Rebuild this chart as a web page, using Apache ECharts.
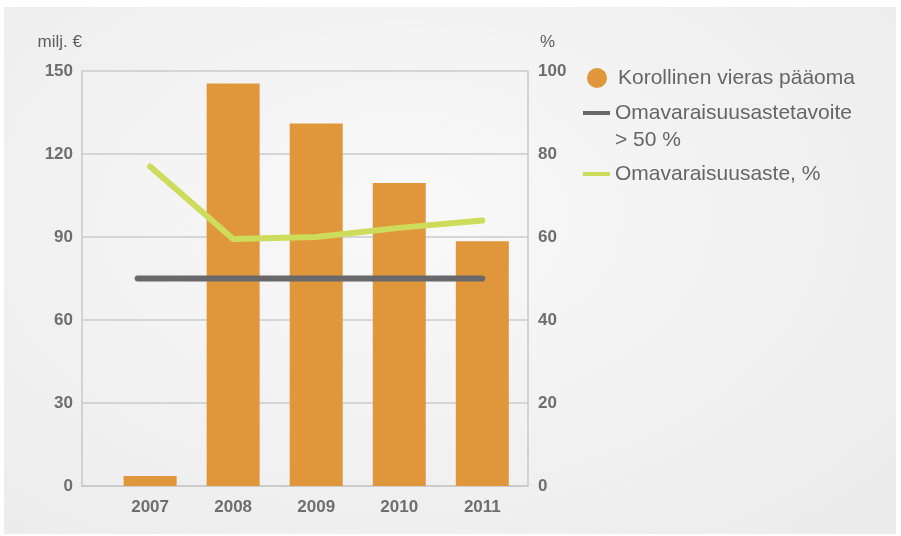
<!DOCTYPE html>
<html>
<head>
<meta charset="utf-8">
<script src="https://cdn.jsdelivr.net/npm/echarts@6/dist/echarts.min.js"></script>
<style>
  html, body { margin: 0; padding: 0; background: #fff; }
  #panel {
    position: absolute; left: 4px; top: 7px; width: 892px; height: 527px;
    background: radial-gradient(ellipse at 45% 40%, #f9f9f9 0%, #f1f1f1 55%, #ebebeb 100%);
  }
  #chart { position: absolute; left: 0; top: 0; width: 901px; height: 536px; }
</style>
</head>
<body>
<div id="panel"></div>
<div id="chart"></div>
<script>
// data
const years = [2007, 2008, 2009, 2010, 2011];
const debt = [3.6, 145.5, 131, 109.5, 88.5];          // milj. €
const equityRatio = [77, 59.5, 60, 62.2, 64];          // %
const goalYears = [2006.85, 2011];
const goalValue = [50, 50];                             // %
const leftTicks = [0, 30, 60, 90, 120, 150];
const rightTicks = [0, 20, 40, 60, 80, 100];

const names = {
  bar: "Korollinen vieras pääoma",
  goal: "Omavaraisuusastetavoite\n> 50 %",
  ratio: "Omavaraisuusaste, %"
};

const tickFont = { color: "#6e6e6e", fontSize: 17, fontWeight: "bold", fontFamily: "Liberation Sans" };
const legendFont = { color: "#666666", fontSize: 21, lineHeight: 27, fontFamily: "Liberation Sans" };
const nameFont = { color: "#5e5e5e", fontSize: 17, fontFamily: "Liberation Sans" };

// circle with some empty room on its right, so the text sits further off
const dotIcon = "path://M0,10a10,10 0 1,0 20,0a10,10 0 1,0 -20,0zM26,10";

const chart = echarts.init(document.getElementById("chart"));
chart.setOption({
  animation: false,
  grid: { left: 82, right: 373, top: 71, bottom: 50 },
  legend: [
    {
      left: 587, top: 64.5, padding: 0, itemWidth: 26, itemHeight: 20,
      data: [{ name: names.bar, icon: dotIcon }],
      textStyle: legendFont
    },
    {
      left: 583, top: 72.5, padding: 0, itemWidth: 27, itemHeight: 4,
      data: [{ name: names.goal, icon: "rect" }],
      // blank first line keeps the first text line level with the icon
      formatter: n => " \n" + n,
      textStyle: legendFont
    },
    {
      left: 583, top: 160.5, padding: 0, itemWidth: 27, itemHeight: 4,
      data: [{ name: names.ratio, icon: "rect" }],
      textStyle: legendFont
    }
  ],
  xAxis: {
    type: "value",
    min: 2006.18,
    max: 2011.55,
    splitLine: { show: false },
    axisLine: { lineStyle: { color: "#c8c8c8", width: 1.5 } },
    axisTick: { show: false },
    axisLabel: Object.assign({ customValues: years, margin: 13, formatter: v => String(v) }, tickFont)
  },
  yAxis: [
    {
      type: "value", min: 0, max: 150, interval: 30,
      name: "milj. €", nameLocation: "end", nameGap: 20,
      nameTextStyle: Object.assign({ align: "right" }, nameFont),
      axisLine: { show: true, lineStyle: { color: "#c8c8c8", width: 1.5 } },
      axisTick: { show: false },
      splitLine: { lineStyle: { color: "#cbcbcb", width: 1.5 } },
      axisLabel: Object.assign({ customValues: leftTicks, margin: 9 }, tickFont)
    },
    {
      type: "value", min: 0, max: 100, interval: 20, position: "right",
      name: "%", nameLocation: "end", nameGap: 20,
      nameTextStyle: Object.assign({ align: "left", padding: [0, 0, 0, 12] }, nameFont),
      axisLine: { show: true, lineStyle: { color: "#c8c8c8", width: 1.5 } },
      axisTick: { show: false },
      splitLine: { show: false },
      axisLabel: Object.assign({ customValues: rightTicks, margin: 10 }, tickFont)
    }
  ],
  series: [
    {
      name: names.bar,
      type: "bar",
      barWidth: 53,
      yAxisIndex: 0,
      itemStyle: { color: "#e0973c" },
      data: years.map((y, i) => [y, debt[i]])
    },
    {
      name: names.goal,
      type: "line",
      yAxisIndex: 1,
      symbol: "none",
      lineStyle: { color: "#69696b", width: 6, cap: "round" },
      itemStyle: { color: "#69696b" },
      data: goalYears.map((y, i) => [y, goalValue[i]])
    },
    {
      name: names.ratio,
      type: "line",
      yAxisIndex: 1,
      symbol: "none",
      lineStyle: { color: "#cddc5b", width: 6, cap: "round", join: "round" },
      itemStyle: { color: "#cddc5b" },
      data: years.map((y, i) => [y, equityRatio[i]])
    }
  ]
});
</script>
</body>
</html>
